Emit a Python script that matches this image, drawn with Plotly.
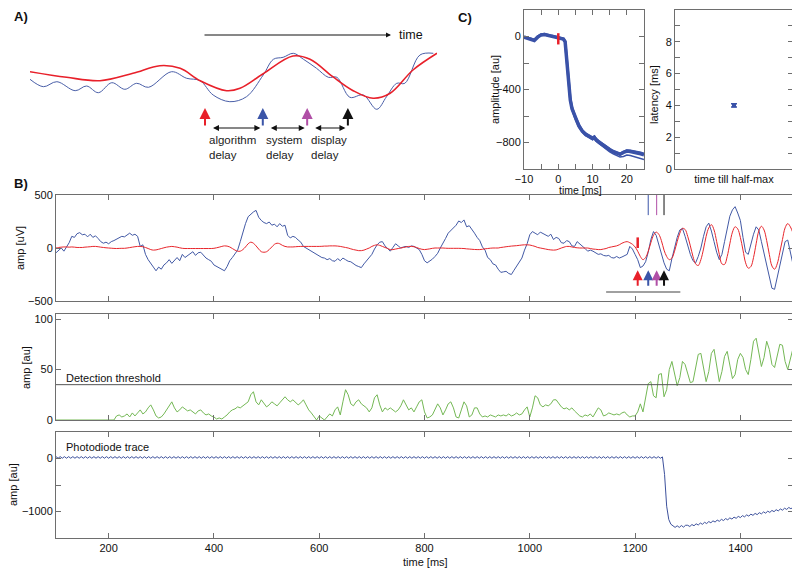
import numpy as np
import plotly.graph_objects as go

# The page body has an 8px margin; the figure is sized so it ends at the window edge.
OFF = 8
W, H = 800 - OFF, 571 - OFF
def fx(p): return (p - OFF) / W
def fy(p): return 1 - (p - OFF) / H

# ---------------- Panel A (schematic) ----------------
a_red_t = [0, 9.0, 17.2, 25.3, 31.9, 36.9, 41.8, 48.3, 51.6, 57.2, 64.6, 68.8, 74.4, 79.4, 84.3, 88.5, 94.1, 100]
a_red_v = [0.83, 0.27, -0.07, 0.67, 1.43, 1.17, -0.07, -1.07, -0.83, 0.6, 2.4, 2.07, 0.33, -1.07, -1.83, -1.33, 1.0, 2.67]
a_blue_t = [0, 3.3, 6.6, 11.1, 13.9, 16.8, 20.1, 23.3, 26.2, 29.1, 34.8, 38.5, 41.8, 45.0, 49.1, 53.2, 57.3,
            59.8, 62.2, 64.7, 67.2, 70.4, 73.3, 75.4, 78.6, 81.9, 85.2, 87.6, 90.1, 92.1, 95.8, 99.1]
a_blue_v = [0.07, -0.67, -0.17, -1.07, -0.6, -1.27, -0.27, -0.93, -0.33, -0.73, 0.83, 0.17, -0.07, -1.5, -2.17,
            -1.67, 0.5, 2.07, 2.27, 2.67, 2.07, 1.17, 0.27, 0.27, -1.73, -1.5, -2.93, -1.67, -0.33, -0.33, 2.5, 2.67]
a_events = [43.0, 57.2, 68.1, 78.1]
event_colors = ['#e8202a', '#3b55a8', '#b04fa6', '#111111']
a_delay_labels = ['algorithm<br>delay', 'system<br>delay', 'display<br>delay']

# ---------------- Panel B ----------------
b_start, b_step = 100, 5
eeg_raw = [
    -45, -20, 0, -30, 10, 50, 110, 100, 135, 145,
    125, 130, 105, 130, 100, 115, 90, 60, 45, 55,
    40, 60, 70, 85, 95, 110, 105, 125, 140, 120,
    130, 110, 15, 30, -60, -110, -140, -180, -215, -180,
    -200, -160, -140, -110, -145, -120, -90, -120, -60, -90,
    -70, -50, -35, -70, -45, -40, -70, -95, -110, -125,
    -160, -175, -190, -200, -215, -175, -120, -90, -60, -20,
    60, 150, 230, 295, 320, 340, 355, 290, 260, 240,
    230, 245, 215, 225, 200, 230, 205, 215, 120, 95,
    110, 100, 75, 55, 15, 0, -10, -30, -40, -60,
    -75, -90, -95, -110, -100, -120, -125, -100, -120, -95,
    -110, -125, -130, -150, -165, -175, -185, -150, -120, -90,
    -60, -10, 30, 55, 60, 20, -10, -30, 5, 40,
    20, 0, 10, 15, 5, 20, 15, 0, -15, -60,
    -120, -140, -125, -105, -80, -50, 0, 40, 90, 140,
    165, 195, 215, 255, 240, 265, 200, 210, 180, 140,
    100, 70, 10, -20, -90, -110, -150, -160, -200, -230,
    -225, -220, -240, -250, -210, -170, -130, -95, -20, 40,
    125, 155, 140, 125, 150, 135, 120, 110, 130, 80,
    100, 90, 50, 45, 70, 60, 20, 15, 60, 40,
    15, -5, -30, -20, -30, -45, -60, -55, -70, -75,
    -70, -90, -95, -80, -95, -85, -70, -60, 15, -10,
    -60, -110, -185, -170, -130, -40, 80, 155, 120, 30,
    -60, -140, -200, -215, -100, 10, 100, 170, 185, 110,
    20, -60, -120, -140, -80, 0, 110, 200, 235, 160,
    60, -40, -110, -60, 60, 200, 300, 360, 390, 330,
    260, 100, -40, -60, 40, 130, 200, 170, 60, -50,
    -180, -300, -380, -390, -280, -170, -40, 60, 75, -40,
    -155]
eeg_filt = [
    0, 5, 8, 10, 10, 8, 10, 8, 5, 5,
    5, 8, 10, 12, 15, 15, 12, 8, 5, 2,
    0, -2, -4, -5, -4, -3, -3, 0, 4, 8,
    12, 15, 15, 12, 5, -5, -15, -20, -18, -12,
    -5, 2, 8, 12, 15, 12, 8, 2, -3, -5,
    -5, -5, -5, -5, -5, -5, -5, -5, -5, -5,
    -3, 2, 8, 15, 20, 18, 10, -5, -20, -30,
    -30, -15, 10, 40, 55, 45, 20, -10, -35, -40,
    -35, -15, 10, 35, 45, 40, 25, 15, 10, 10,
    10, 12, 14, 15, 15, 15, 15, 15, 15, 15,
    15, 16, 18, 18, 20, 20, 20, 18, 15, 10,
    5, 0, -8, -15, -20, -25, -25, -20, -10, 0,
    15, 25, 30, 25, 15, 5, -5, -15, -15, -10,
    -5, 0, 5, 10, 15, 15, 12, 5, -5, -12,
    -15, -12, -8, -3, 0, 0, 0, 0, -2, -3,
    -3, -3, -3, -3, -4, -5, -8, -10, -12, -14,
    -15, -15, -12, -8, -5, -2, 0, 0, 0, 5,
    8, 12, 15, 18, 20, 22, 25, 28, 30, 30,
    28, 22, 15, 5, 0, -5, -10, -15, -18, -20,
    -18, -10, 0, 8, 15, 15, 10, 5, 2, 0,
    0, 0, 0, -5, -10, -12, -15, -15, -10, -5,
    5, 10, 15, 20, 30, 45, 55, 60, 50, 35,
    10, -30, -80, -110, -90, -30, 50, 120, 150, 130,
    70, -20, -80, -110, -95, -30, 60, 140, 185, 175,
    110, 20, -80, -150, -165, -110, -10, 110, 190, 220,
    170, 60, -60, -150, -155, -80, 40, 150, 200, 180,
    100, -20, -140, -190, -175, -90, 40, 160, 205, 170,
    70, -60, -170, -200, -150, -40, 80, 190, 230, 200,
    140]
det_amp = [
    0, 0, 0, 0, 0, 0, 0, 0, 0, 0,
    0, 0, 0, 0, 0, 0, 0, 0, 0, 0,
    0, 0, 0, 4, 5, 3, 4, 6, 3, 7,
    4, 7, 10, 6, 8, 12, 15, 10, 4, 2,
    3, 6, 10, 14, 18, 12, 8, 10, 13, 11,
    9, 10, 8, 6, 9, 10, 7, 5, 6, 4,
    3, 1, 2, 1, 3, 5, 8, 10, 11, 13,
    12, 14, 16, 18, 25, 28, 18, 15, 20, 17,
    13, 15, 18, 16, 14, 17, 20, 23, 20, 18,
    20, 17, 15, 17, 20, 15, 10, 7, 3, 0,
    4, 2, 0, 3, 6, 4, 10, 13, 5, 18,
    30, 25, 16, 14, 18, 20, 16, 14, 12, 8,
    12, 22, 25, 15, 8, 12, 10, 12, 10, 8,
    10, 14, 20, 15, 10, 12, 8, 13, 18, 20,
    8, 2, 3, 5, 10, 16, 12, 5, 10, 16,
    18, 12, 3, 2, 10, 18, 14, 3, 5, 12,
    12, 6, 3, 4, 3, 5, 4, 3, 5, 4,
    5, 4, 6, 4, 5, 7, 5, 6, 10, 13,
    3, 12, 24, 22, 15, 13, 15, 14, 16, 20,
    20, 16, 13, 11, 12, 10, 12, 9, 6, 4,
    3, 5, 4, 6, 3, 8, 12, 10, 4, 5,
    7, 6, 5, 6, 5, 7, 8, 5, 3, 4,
    4, 8, 16, 8, 22, 36, 38, 24, 22, 45,
    46, 23, 30, 50, 58, 45, 34, 42, 58, 55,
    45, 37, 38, 52, 65, 66, 52, 38, 48, 66,
    70, 55, 38, 48, 63, 68, 55, 41, 45, 60,
    66, 62, 50, 45, 60, 78, 81, 65, 53, 62,
    78, 70, 55, 52, 65, 75, 74, 58, 50, 60,
    71]
threshold = 35
pd_start, pd_step = 100, 4
pd_vals = [
    35, 5, 35, 5, 35, 5, 35, 5, 35, 5,
    35, 5, 35, 5, 35, 5, 35, 5, 35, 5,
    35, 5, 35, 5, 35, 5, 35, 5, 35, 5,
    35, 5, 35, 5, 35, 5, 35, 5, 35, 5,
    35, 5, 35, 5, 35, 5, 35, 5, 35, 5,
    35, 5, 35, 5, 35, 5, 35, 5, 35, 5,
    35, 5, 35, 5, 35, 5, 35, 5, 35, 5,
    35, 5, 35, 5, 35, 5, 35, 5, 35, 5,
    35, 5, 35, 5, 35, 5, 35, 5, 35, 5,
    35, 5, 35, 5, 35, 5, 35, 5, 35, 5,
    35, 5, 35, 5, 35, 5, 35, 5, 35, 5,
    35, 5, 35, 5, 35, 5, 35, 5, 35, 5,
    35, 5, 35, 5, 35, 5, 35, 5, 35, 5,
    35, 5, 35, 5, 35, 5, 35, 5, 35, 5,
    35, 5, 35, 5, 35, 5, 35, 5, 35, 5,
    35, 5, 35, 5, 35, 5, 35, 5, 35, 5,
    35, 5, 35, 5, 35, 5, 35, 5, 35, 5,
    35, 5, 35, 5, 35, 5, 35, 5, 35, 5,
    35, 5, 35, 5, 35, 5, 35, 5, 35, 5,
    35, 5, 35, 5, 35, 5, 35, 5, 35, 5,
    35, 5, 35, 5, 35, 5, 35, 5, 35, 5,
    35, 5, 35, 5, 35, 5, 35, 5, 35, 5,
    35, 5, 35, 5, 35, 5, 35, 5, 35, 5,
    35, 5, 35, 5, 35, 5, 35, 5, 35, 5,
    35, 5, 35, 5, 35, 5, 35, 5, 35, 5,
    35, 5, 35, 5, 35, 5, 35, 5, 35, 5,
    35, 5, 35, 5, 35, 5, 35, 5, 35, 5,
    35, 5, 35, 5, 35, 5, 35, 5, 35, 5,
    35, 5, 35, 5, 35, 5, 35, 5, 30, -300,
    -900, -1150, -1240, -1270, -1300, -1270, -1300, -1265, -1295, -1260,
    -1260, -1283, -1246, -1269, -1232, -1255, -1218, -1241, -1204, -1227,
    -1190, -1213, -1176, -1199, -1162, -1185, -1148, -1171, -1134, -1157,
    -1120, -1143, -1106, -1129, -1092, -1115, -1078, -1101, -1064, -1087,
    -1050, -1073, -1036, -1059, -1022, -1045, -1008, -1031, -994, -1017,
    -980, -1003, -966, -989, -952, -975, -938, -961, -924, -947,
    -925]
events_ms = [1205, 1225, 1241, 1255]
window_ms = [1145, 1286]
b_xticks = [200, 400, 600, 800, 1000, 1200, 1400]

# ---------------- Panel C ----------------
c_t = [-10, -9, -8, -7, -6, -5, -4, -3, -2, -1, 0, 1, 1.5, 2, 2.5, 3, 3.5, 4, 5, 6, 7, 8, 9, 10,
       10.5, 11, 12, 13, 14, 15, 16, 17, 18, 19, 20, 21, 22, 23, 24, 25]
c_trial_a = [-5, -12, -20, -30, -5, 12, 15, 8, 3, -2, -8, -15, -20, -40, -200, -370, -480, -545, -620, -675,
             -715, -740, -755, -770, -760, -780, -800, -820, -840, -855, -870, -880, -890, -875, -865, -868,
             -872, -878, -885, -892]
c_trial_b = [-2, -8, -15, -25, 0, 15, 18, 10, 5, 0, -5, -12, -18, -35, -190, -360, -470, -535, -610, -665,
             -708, -733, -750, -763, -755, -772, -795, -815, -835, -850, -864, -874, -884, -872, -860, -862,
             -866, -872, -878, -885]
c_trial_c = [-8, -15, -22, -32, -8, 8, 12, 5, 0, -5, -10, -18, -25, -45, -210, -380, -490, -555, -630, -685,
             -722, -748, -762, -778, -770, -790, -810, -832, -853, -870, -885, -897, -910, -905, -895, -898,
             -905, -912, -920, -928]
c_latency = [4.0]
c_latency_err = [0.1]
c_category = ['time till half-max']

MINUS = '\u2212'
def lab(v):
    return (MINUS + str(-v)) if v < 0 else str(v)

b_time = b_start + b_step * np.arange(len(eeg_raw))
g_time = b_start + b_step * np.arange(len(det_amp))
f_time = b_start + b_step * np.arange(len(eeg_filt))
pd_time = pd_start + pd_step * np.arange(len(pd_vals))

fig = go.Figure()
# Panel A
fig.add_trace(go.Scatter(x=a_blue_t, y=a_blue_v, mode='lines', line=dict(color='#4a5fa8', width=1, shape='spline'),
                         xaxis='x', yaxis='y'))
fig.add_trace(go.Scatter(x=a_red_t, y=a_red_v, mode='lines', line=dict(color='#e8202a', width=1.6, shape='spline'),
                         xaxis='x', yaxis='y'))
# Panel C1
fig.add_trace(go.Scatter(x=c_t, y=c_trial_c, mode='lines', line=dict(color='#3a52a8', width=1.5), xaxis='x2', yaxis='y2'))
fig.add_trace(go.Scatter(x=c_t, y=c_trial_a, mode='lines', line=dict(color='#3a52a8', width=3.5), xaxis='x2', yaxis='y2'))
fig.add_trace(go.Scatter(x=c_t, y=c_trial_b, mode='lines', line=dict(color='#3a52a8', width=2.5), xaxis='x2', yaxis='y2'))
# Panel C2
fig.add_trace(go.Scatter(x=c_category, y=c_latency, mode='markers',
                         marker=dict(color='#3a52a8', size=4, symbol='square'),
                         error_y=dict(type='data', array=c_latency_err, color='#3a52a8', thickness=1.5, width=3),
                         xaxis='x3', yaxis='y3'))
# Panel B1
fig.add_trace(go.Scatter(x=b_time, y=eeg_raw, mode='lines', line=dict(color='#4259a5', width=1), xaxis='x4', yaxis='y4'))
fig.add_trace(go.Scatter(x=f_time, y=eeg_filt, mode='lines', line=dict(color='#e8262c', width=1, shape='spline'),
                         xaxis='x4', yaxis='y4'))
# Panel B2
fig.add_trace(go.Scatter(x=g_time, y=det_amp, mode='lines', line=dict(color='#74b855', width=1), xaxis='x5', yaxis='y5'))
fig.add_trace(go.Scatter(x=[b_start, b_time[-1]], y=[threshold, threshold], mode='lines',
                         line=dict(color='#555555', width=1), xaxis='x5', yaxis='y5'))
# Panel B3
fig.add_trace(go.Scatter(x=pd_time, y=pd_vals, mode='lines', line=dict(color='#3d519c', width=1), xaxis='x6', yaxis='y6'))

axcol = '#6e6e6e'
tickfont = dict(family='Liberation Sans, Arial, sans-serif', size=11, color='#111')
def box_axis(domain, rng, tickvals, ticktext, ticks='inside'):
    return dict(domain=domain, range=rng, showline=True, linecolor=axcol, linewidth=1, mirror='ticks',
                ticks=ticks, ticklen=5, tickcolor=axcol, tickvals=tickvals, ticktext=ticktext,
                showgrid=False, zeroline=False, tickfont=tickfont, fixedrange=True, automargin=False)

bx_dom = [fx(56), fx(793)]
layout = dict(
    width=W, height=H, autosize=False, margin=dict(l=0, r=0, t=0, b=0, pad=0),
    paper_bgcolor='white', plot_bgcolor='white', showlegend=False,
    font=dict(family='Liberation Sans, Arial, sans-serif', size=11, color='#111'),
    xaxis=dict(domain=[fx(30), fx(437)], range=[0, 100], visible=False, fixedrange=True, automargin=False),
    yaxis=dict(domain=[fy(180), fy(20)], range=[-10, 6], visible=False, fixedrange=True, automargin=False),
    xaxis2=box_axis([fx(524), fx(644)], [-10, 25], [-10, -5, 0, 5, 10, 15, 20],
                    [lab(v) if v % 10 == 0 else '' for v in [-10, -5, 0, 5, 10, 15, 20]]),
    yaxis2=box_axis([fy(169), fy(10)], [-1000, 200], [-800, -600, -400, -200, 0],
                    [lab(v) if v % 400 == 0 else '' for v in [-800, -600, -400, -200, 0]]),
    xaxis3=box_axis([fx(675), fx(793)], [-1, 1], None, None, ticks=''),
    yaxis3=box_axis([fy(169), fy(10)], [0, 10], list(range(0, 10)),
                    [str(v) if v % 2 == 0 else '' for v in range(0, 10)]),
    xaxis4=box_axis(bx_dom, [100, 1500], b_xticks, [''] * len(b_xticks)),
    yaxis4=box_axis([fy(301), fy(195)], [-500, 500], [-500, 0, 500], [lab(v) for v in [-500, 0, 500]]),
    xaxis5=box_axis(bx_dom, [100, 1500], b_xticks, [''] * len(b_xticks)),
    yaxis5=box_axis([fy(420), fy(314)], [0, 105], [0, 50, 100], ['0', '50', '100']),
    xaxis6=box_axis(bx_dom, [100, 1500], b_xticks, [str(v) for v in b_xticks]),
    yaxis6=box_axis([fy(538), fy(432)], [-1500, 500], [-1000, -500, 0], [lab(-1000), '', '0']),
)
layout['xaxis3']['type'] = 'category'
layout['xaxis3']['range'] = [-1, 1]
layout['xaxis3']['tickvals'] = c_category
layout['xaxis3']['ticktext'] = c_category
for k in ['xaxis2', 'xaxis3', 'xaxis4', 'xaxis5', 'xaxis6']:
    layout[k]['anchor'] = 'y' + k[-1]
for k in ['yaxis2', 'yaxis3', 'yaxis4', 'yaxis5', 'yaxis6']:
    layout[k]['anchor'] = 'x' + k[-1]
fig.update_layout(**layout)

shapes = []
# B1 event markers
shapes.append(dict(type='line', xref='x4', yref='y4', x0=events_ms[0], x1=events_ms[0], y0=0, y1=100,
                   line=dict(color=event_colors[0], width=2.5)))
for e, c in zip(events_ms[1:], event_colors[1:]):
    shapes.append(dict(type='line', xref='x4', yref='y4', x0=e, x1=e, y0=310, y1=500, line=dict(color=c, width=1)))
shapes.append(dict(type='line', xref='x4', yref='y4', x0=window_ms[0], x1=window_ms[1], y0=-415, y1=-415,
                   line=dict(color='#a0a0a0', width=2)))
# C1 red onset tick
shapes.append(dict(type='line', xref='x2', yref='y2', x0=0, x1=0, y0=-60, y1=25, line=dict(color='#e8202a', width=2.5)))
fig.update_layout(shapes=shapes)

ann = []
def text(x, y, s, size=11, xanchor='center', bold=False, angle=0, yanchor='middle'):
    ann.append(dict(xref='paper', yref='paper', x=fx(x), y=fy(y), text=('<b>%s</b>' % s) if bold else s,
                    showarrow=False, xanchor=xanchor, yanchor=yanchor, textangle=angle,
                    font=dict(size=size, color='#111')))

text(12, 16, 'A)', size=13, xanchor='left', bold=True)
text(12, 183, 'B)', size=13, xanchor='left', bold=True)
text(456, 17, 'C)', size=13, xanchor='left', bold=True)
text(397, 35, 'time', size=12.5, xanchor='left')
# time arrow
ann.append(dict(xref='paper', yref='paper', x=fx(391), y=fy(35), ax=-188, ay=0, axref='pixel', ayref='pixel',
                text='', showarrow=True, arrowhead=2, arrowsize=1, arrowwidth=1, arrowcolor='#111'))
# A event arrows
for e, c in zip(a_events, event_colors):
    ann.append(dict(xref='x', yref='y', x=e, y=-2.8, ax=0, ay=19, text='', showarrow=True, arrowhead=2,
                    arrowsize=1.1, arrowwidth=2, arrowcolor=c))
for i, s in enumerate(a_delay_labels):
    ann.append(dict(xref='x', yref='y', x=a_events[i + 1] - 0.6, y=-4.8, ax=a_events[i] + 1.6, ay=-4.8,
                    axref='x', ayref='y', text='', showarrow=True, arrowhead=2, startarrowhead=2,
                    arrowside='end+start', arrowsize=1, arrowwidth=1.2, arrowcolor='#111'))
    ann.append(dict(xref='x', yref='paper', x=a_events[i] + 0.4, y=fy(132), text=s, showarrow=False,
                    xanchor='left', yanchor='top', align='left', font=dict(size=11.5, color='#222')))
# B1 event arrows
for e, c in zip(events_ms, event_colors):
    ann.append(dict(xref='x4', yref='y4', x=e, y=-210, ax=0, ay=17, text='', showarrow=True, arrowhead=2,
                    arrowsize=1, arrowwidth=2, arrowcolor=c))
text(64, 378, 'Detection threshold', size=11, xanchor='left')
text(64, 447, 'Photodiode trace', size=11, xanchor='left')
text(425, 562, 'time [ms]', size=11)
text(580, 190, 'time [ms]', size=10.5)
text(20, 248, 'amp [uV]', size=11, angle=-90)
text(26, 368, 'amp [au]', size=11, angle=-90)
text(13, 485, 'amp [au]', size=11, angle=-90)
text(495, 90, 'amplitude [au]', size=11, angle=-90)
text(654, 95, 'latency [ms]', size=11, angle=-90)
fig.update_layout(annotations=ann)

fig.write_html("out.html")
